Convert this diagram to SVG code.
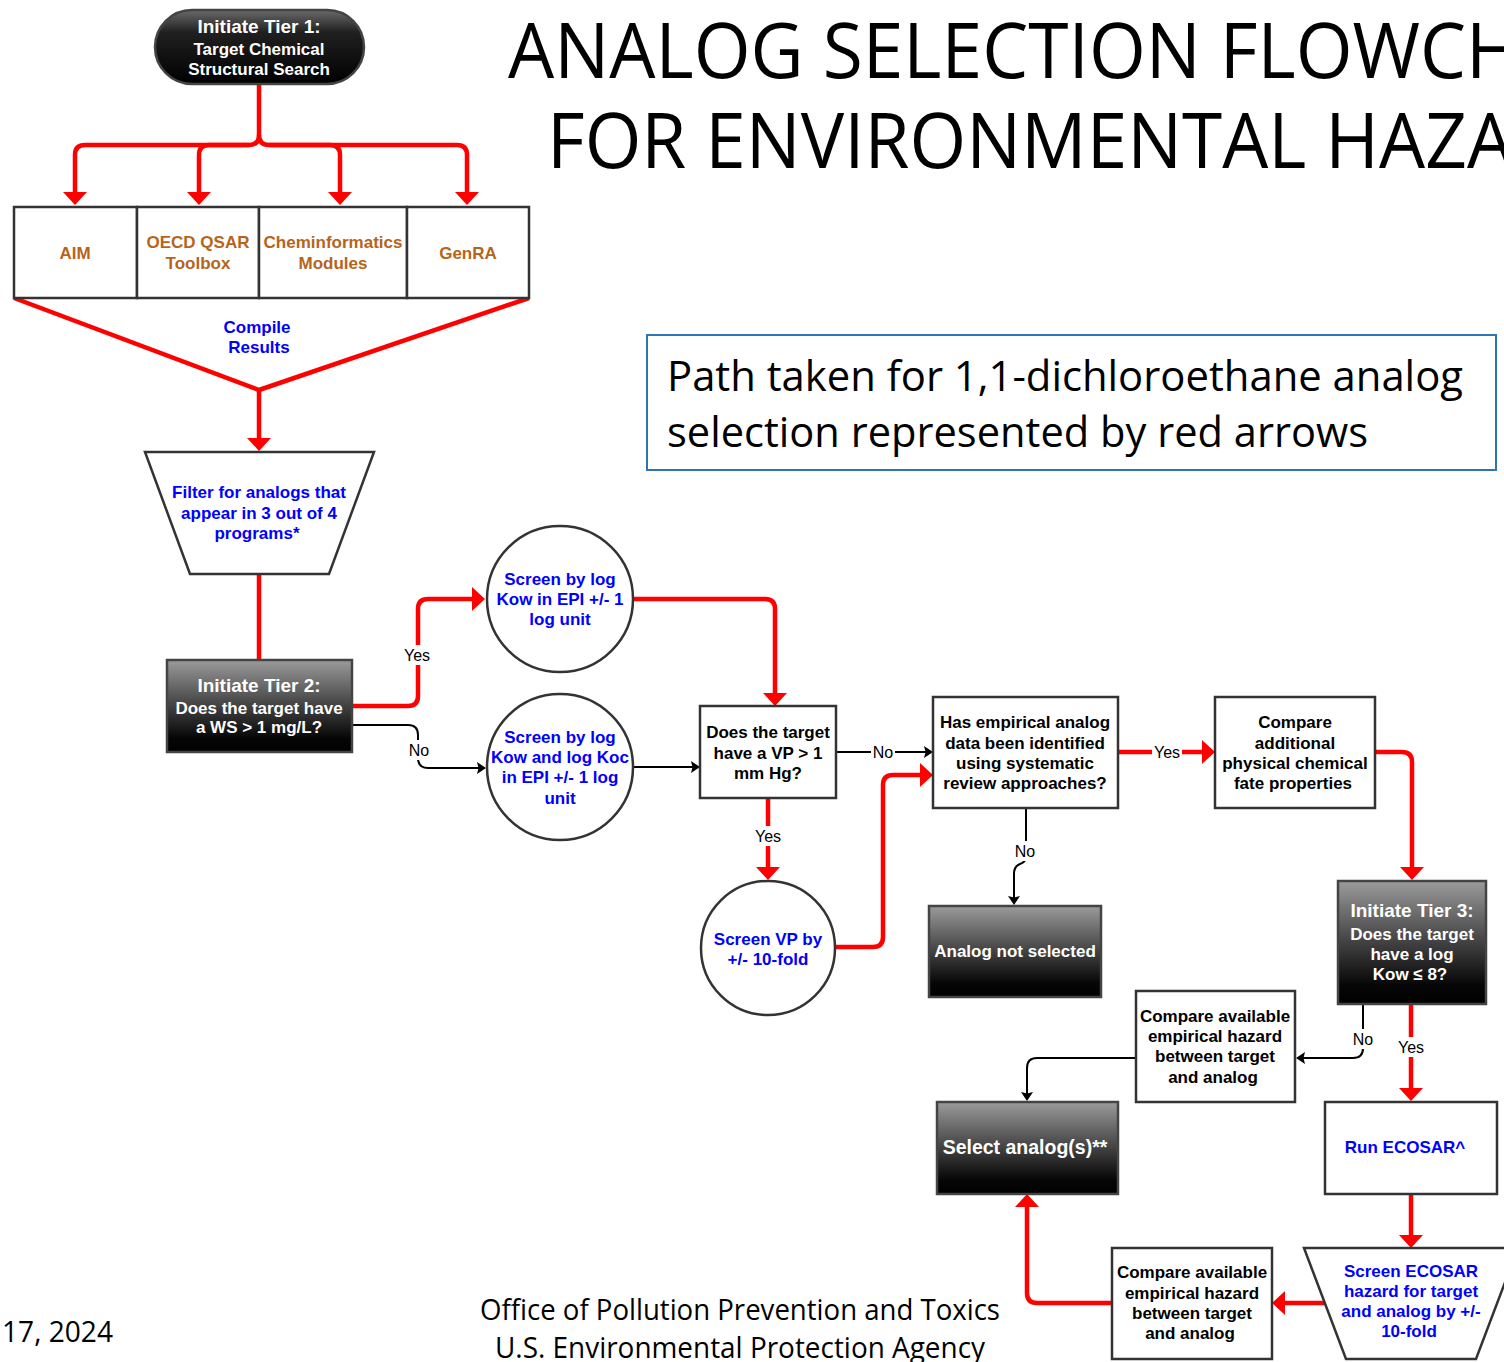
<svg xmlns="http://www.w3.org/2000/svg" width="1504" height="1362" viewBox="0 0 1504 1362">
<defs>
<linearGradient id="gDark" x1="0" y1="0" x2="0" y2="1">
<stop offset="0" stop-color="#9b9b9b"/>
<stop offset="0.45" stop-color="#4a4a4a"/>
<stop offset="0.85" stop-color="#060606"/>
<stop offset="1" stop-color="#000"/>
</linearGradient>
<linearGradient id="gPill" x1="0" y1="0" x2="0" y2="1">
<stop offset="0" stop-color="#6a6a6a"/>
<stop offset="0.3" stop-color="#202020"/>
<stop offset="1" stop-color="#000"/>
</linearGradient>
<marker id="ra" markerUnits="userSpaceOnUse" markerWidth="13" markerHeight="24" refX="10" refY="12" orient="auto" viewBox="0 0 13 24">
<path d="M0,0 L13,12 L0,24 z" fill="#ff0000"/>
</marker>
<marker id="ba" markerUnits="userSpaceOnUse" markerWidth="9" markerHeight="12" refX="7" refY="6" orient="auto" viewBox="0 0 9 12">
<path d="M0,0 L9,6 L0,12 L1.5,6 z" fill="#000"/>
</marker>
<style>
.box{fill:#fff;stroke:#333;stroke-width:2.5}
.dark{fill:url(#gDark);stroke:#444;stroke-width:2.5}
.t{font-family:"Liberation Sans",Arial,sans-serif;font-weight:bold;font-size:17px;text-anchor:middle}
.blk{fill:#000}
.blu{fill:#0000ff}
.org{fill:#b7641a}
.wht{fill:#fff}
.big{font-size:19px}
.sel{font-size:19.5px}
.lbl{font-family:"Liberation Sans",Arial,sans-serif;font-size:16px;text-anchor:middle;fill:#000}
.red{fill:none;stroke:#ff0000;stroke-width:4.5}
.bl{fill:none;stroke:#000;stroke-width:2}
.cal{font-family:"Open Sans","Noto Sans",sans-serif;fill:#000}
</style>
</defs>
<rect width="1504" height="1362" fill="#fff"/>

<!-- Title and notes -->
<text class="cal" x="508" y="78" font-size="76" textLength="1012" lengthAdjust="spacingAndGlyphs">ANALOG SELECTION FLOWCH</text>
<text class="cal" x="547" y="168" font-size="76" textLength="966" lengthAdjust="spacingAndGlyphs">FOR ENVIRONMENTAL HAZA</text>

<g id="note">
<rect x="647" y="335" width="849" height="135" fill="#fff" stroke="#2e75b6" stroke-width="2"/>
<text class="cal" x="667" y="391" font-size="42" textLength="796" lengthAdjust="spacingAndGlyphs">Path taken for 1,1-dichloroethane analog</text>
<text class="cal" x="667" y="447" font-size="42" textLength="701" lengthAdjust="spacingAndGlyphs">selection represented by red arrows</text>
</g>

<g id="footer">
<text class="cal" x="2" y="1342" font-size="29" textLength="111" lengthAdjust="spacingAndGlyphs">17, 2024</text>
<text class="cal" x="480" y="1320" font-size="29" textLength="520" lengthAdjust="spacingAndGlyphs">Office of Pollution Prevention and Toxics</text>
<text class="cal" x="495" y="1358" font-size="29" textLength="490" lengthAdjust="spacingAndGlyphs">U.S. Environmental Protection Agency</text>
</g>

<!-- Connectors -->
<g id="connectors">
<path class="red" d="M259,84 V135"/>
<path class="red" d="M259,135 Q259,145 249,145 H85 Q75,145 75,155 V202" marker-end="url(#ra)"/>
<path class="red" d="M249,145 H209 Q199,145 199,155 V202" marker-end="url(#ra)"/>
<path class="red" d="M259,135 Q259,145 269,145 H457 Q467,145 467,155 V202" marker-end="url(#ra)"/>
<path class="red" d="M269,145 H330 Q340,145 340,155 V202" marker-end="url(#ra)"/>
<path class="red" d="M14,298 L259,390 L529,298" stroke-linejoin="miter"/>
<path class="red" d="M259,390 V448" marker-end="url(#ra)"/>
<path class="red" d="M259,574 V660"/>
<path class="red" d="M352,706 H408 Q418,706 418,696 V609 Q418,599 428,599 H482" marker-end="url(#ra)"/>
<path class="bl" d="M352,725 H408 Q418,725 418,735 V758 Q418,768 428,768 H484" marker-end="url(#ba)"/>
<path class="red" d="M633,599 H765 Q775,599 775,609 V703" marker-end="url(#ra)"/>
<path class="bl" d="M633,767 H698" marker-end="url(#ba)"/>
<path class="bl" d="M836,752 H931" marker-end="url(#ba)"/>
<path class="red" d="M768,798 V877" marker-end="url(#ra)"/>
<path class="red" d="M836,947 H873 Q883,947 883,937 V785 Q883,775 893,775 H930" marker-end="url(#ra)"/>
<path class="red" d="M1118,752 H1212" marker-end="url(#ra)"/>
<path class="bl" d="M1026,808 V856 Q1026,862 1020,864 Q1014,866 1014,874 V903" marker-end="url(#ba)"/>
<path class="red" d="M1375,752 H1402 Q1412,752 1412,762 V877" marker-end="url(#ra)"/>
<path class="bl" d="M1363,1004 V1048 Q1363,1058 1353,1058 H1298" marker-end="url(#ba)"/>
<path class="red" d="M1411,1004 V1098" marker-end="url(#ra)"/>
<path class="bl" d="M1135,1058 H1037 Q1027,1058 1027,1068 V1099" marker-end="url(#ba)"/>
<path class="red" d="M1411,1194 V1245" marker-end="url(#ra)"/>
<path class="red" d="M1327,1303 H1275" marker-end="url(#ra)"/>
<path class="red" d="M1112,1303 H1037 Q1027,1303 1027,1293 V1197" marker-end="url(#ra)"/>
<!-- labels -->
<rect x="402" y="645" width="30" height="20" fill="#fff"/>
<text class="lbl" x="417" y="661">Yes</text>
<rect x="407" y="740" width="24" height="20" fill="#fff"/>
<text class="lbl" x="419" y="756">No</text>
<rect x="871" y="742" width="24" height="20" fill="#fff"/>
<text class="lbl" x="883" y="758">No</text>
<rect x="753" y="826" width="30" height="20" fill="#fff"/>
<text class="lbl" x="768" y="842">Yes</text>
<rect x="1152" y="742" width="30" height="20" fill="#fff"/>
<text class="lbl" x="1167" y="758">Yes</text>
<rect x="1013" y="841" width="24" height="20" fill="#fff"/>
<text class="lbl" x="1025" y="857">No</text>
<rect x="1351" y="1029" width="24" height="20" fill="#fff"/>
<text class="lbl" x="1363" y="1045">No</text>
<rect x="1396" y="1037" width="30" height="20" fill="#fff"/>
<text class="lbl" x="1411" y="1053">Yes</text>
</g>

<!-- Nodes -->
<g id="tier1">
<rect x="155" y="10" width="209" height="74" rx="37" ry="37" fill="url(#gPill)" stroke="#444" stroke-width="2.5"/>
<text class="t wht big" x="259" y="33">Initiate Tier 1:</text>
<text class="t wht" x="259" y="55">Target Chemical</text>
<text class="t wht" x="259" y="75">Structural Search</text>
</g>

<g id="aim">
<rect class="box" x="14" y="207" width="123" height="91"/>
<text class="t org" x="75" y="259">AIM</text>
</g>
<g id="oecd">
<rect class="box" x="137" y="207" width="122" height="91"/>
<text class="t org" x="198" y="248">OECD QSAR</text>
<text class="t org" x="198" y="269">Toolbox</text>
</g>
<g id="chem">
<rect class="box" x="259" y="207" width="148" height="91"/>
<text class="t org" x="333" y="248">Cheminformatics</text>
<text class="t org" x="333" y="269">Modules</text>
</g>
<g id="genra">
<rect class="box" x="407" y="207" width="122" height="91"/>
<text class="t org" x="468" y="259">GenRA</text>
</g>

<g id="compile">
<text class="t blu" x="257" y="333">Compile</text>
<text class="t blu" x="259" y="353">Results</text>
</g>

<g id="filter">
<polygon class="box" points="145,452 374,452 329,574 190,574"/>
<text class="t blu" x="259" y="498">Filter for analogs that</text>
<text class="t blu" x="259" y="519">appear in 3 out of 4</text>
<text class="t blu" x="257" y="539">programs*</text>
</g>

<g id="tier2">
<rect class="dark" x="167" y="660" width="185" height="92"/>
<text class="t wht big" x="259" y="692">Initiate Tier 2:</text>
<text class="t wht" x="259" y="714">Does the target have</text>
<text class="t wht" x="259" y="733">a WS &gt; 1 mg/L?</text>
</g>

<g id="screenKow">
<circle class="box" cx="560" cy="599" r="73"/>
<text class="t blu" x="560" y="585">Screen by log</text>
<text class="t blu" x="560" y="605">Kow in EPI +/- 1</text>
<text class="t blu" x="560" y="625">log unit</text>
</g>

<g id="screenKoc">
<circle class="box" cx="560" cy="767" r="73"/>
<text class="t blu" x="560" y="743">Screen by log</text>
<text class="t blu" x="560" y="763">Kow and log Koc</text>
<text class="t blu" x="560" y="783">in EPI +/- 1 log</text>
<text class="t blu" x="560" y="804">unit</text>
</g>

<g id="vp">
<rect class="box" x="700" y="706" width="136" height="92"/>
<text class="t blk" x="768" y="738">Does the target</text>
<text class="t blk" x="768" y="759">have a VP &gt; 1</text>
<text class="t blk" x="768" y="779">mm Hg?</text>
</g>

<g id="screenVP">
<circle class="box" cx="768" cy="948" r="67"/>
<text class="t blu" x="768" y="945">Screen VP by</text>
<text class="t blu" x="768" y="965">+/- 10-fold</text>
</g>

<g id="empirical">
<rect class="box" x="933" y="697" width="185" height="111"/>
<text class="t blk" x="1025" y="728">Has empirical analog</text>
<text class="t blk" x="1025" y="749">data been identified</text>
<text class="t blk" x="1025" y="769">using systematic</text>
<text class="t blk" x="1025" y="789">review approaches?</text>
</g>

<g id="notSelected">
<rect class="dark" x="929" y="906" width="172" height="91"/>
<text class="t wht" x="1015" y="957">Analog not selected</text>
</g>

<g id="compareProps">
<rect class="box" x="1215" y="697" width="160" height="111"/>
<text class="t blk" x="1295" y="728">Compare</text>
<text class="t blk" x="1295" y="749">additional</text>
<text class="t blk" x="1295" y="769">physical chemical</text>
<text class="t blk" x="1293" y="789">fate properties</text>
</g>

<g id="tier3">
<rect class="dark" x="1338" y="881" width="148" height="123"/>
<text class="t wht big" x="1412" y="917">Initiate Tier 3:</text>
<text class="t wht" x="1412" y="940">Does the target</text>
<text class="t wht" x="1412" y="960">have a log</text>
<text class="t wht" x="1410" y="980">Kow ≤ 8?</text>
</g>

<g id="compareHazard1">
<rect class="box" x="1136" y="991" width="159" height="111"/>
<text class="t blk" x="1215" y="1022">Compare available</text>
<text class="t blk" x="1215" y="1042">empirical hazard</text>
<text class="t blk" x="1215" y="1062">between target</text>
<text class="t blk" x="1213" y="1083">and analog</text>
</g>

<g id="selectAnalog">
<rect class="dark" x="937" y="1102" width="181" height="92"/>
<text class="t wht sel" x="1025" y="1154">Select analog(s)**</text>
</g>

<g id="runEcosar">
<rect class="box" x="1325" y="1102" width="172" height="92"/>
<text class="t blu" x="1405" y="1153">Run ECOSAR^</text>
</g>

<g id="screenEcosar">
<polygon class="box" points="1304,1248 1518,1248 1476,1359 1346,1359"/>
<text class="t blu" x="1411" y="1277">Screen ECOSAR</text>
<text class="t blu" x="1411" y="1297">hazard for target</text>
<text class="t blu" x="1411" y="1317">and analog by +/-</text>
<text class="t blu" x="1409" y="1337">10-fold</text>
</g>

<g id="compareHazard2">
<rect class="box" x="1112" y="1248" width="160" height="111"/>
<text class="t blk" x="1192" y="1278">Compare available</text>
<text class="t blk" x="1192" y="1299">empirical hazard</text>
<text class="t blk" x="1192" y="1319">between target</text>
<text class="t blk" x="1190" y="1339">and analog</text>
</g>
</svg>
